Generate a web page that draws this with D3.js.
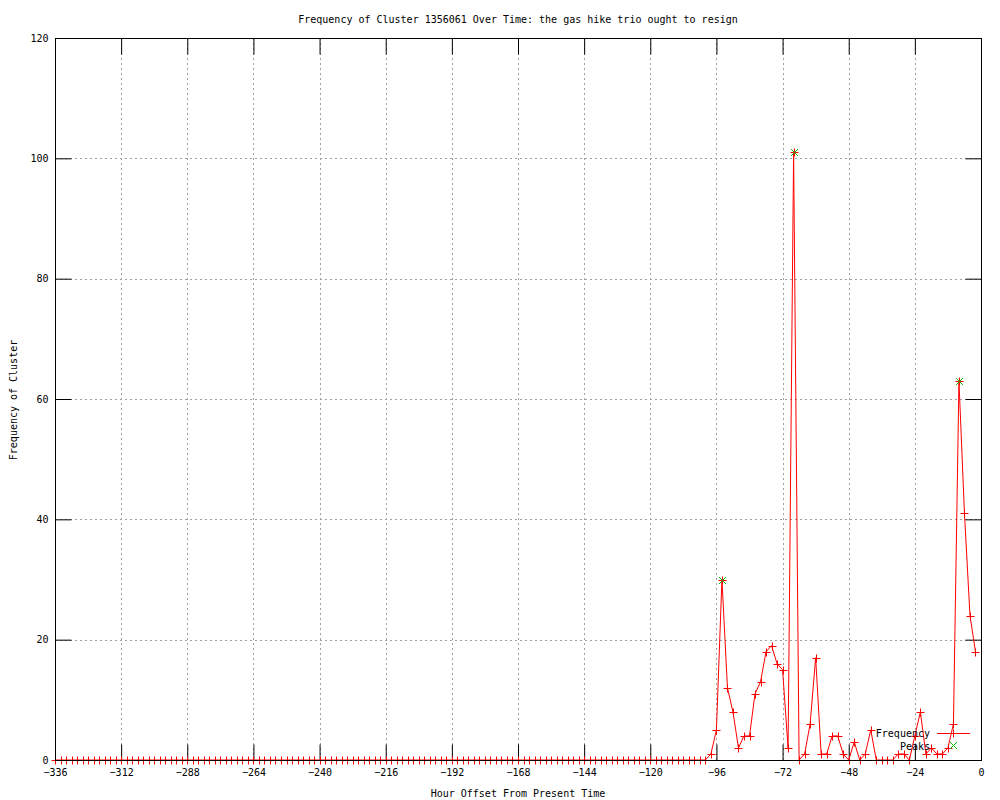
<!DOCTYPE html>
<html>
<head>
<meta charset="utf-8">
<script src="https://cdn.jsdelivr.net/npm/d3@7"></script>
<style>
  body { margin: 0; background: #fff; }
  svg { display: block; }
  text { font-family: "DejaVu Sans Mono", "Liberation Mono", monospace; font-size: 10px; fill: #000; }
</style>
</head>
<body>
<svg id="chart" width="1000" height="800"></svg>
<script>
// ---- data ----
const titleText = "Frequency of Cluster 1356061 Over Time: the gas hike trio ought to resign";
const xLabel = "Hour Offset From Present Time";
const yLabel = "Frequency of Cluster";
const xTicks = [-336, -312, -288, -264, -240, -216, -192, -168, -144, -120, -96, -72, -48, -24, 0];
const yTicks = [0, 20, 40, 60, 80, 100, 120];
const hours = d3.range(-336, 0, 2); // -336 ... -2, every 2 hours
const frequency = [
  0,0,0,0,0,0,0,0,0,0, 0,0,0,0,0,0,0,0,0,0,
  0,0,0,0,0,0,0,0,0,0, 0,0,0,0,0,0,0,0,0,0,
  0,0,0,0,0,0,0,0,0,0, 0,0,0,0,0,0,0,0,0,0,
  0,0,0,0,0,0,0,0,0,0, 0,0,0,0,0,0,0,0,0,0,
  0,0,0,0,0,0,0,0,0,0, 0,0,0,0,0,0,0,0,0,0,
  0,0,0,0,0,0,0,0,0,0, 0,0,0,0,0,0,0,0,0,
  1,5,30,12,8,2,4,4,11,13,
  18,19,16,15,2,101,0,1,6,17,
  1,1,4,4,1,0,3,0,1,5,
  0,0,0,0,1,1,0,4,8,1,
  2,1,1,2,6,63,41,24,18
];
const peakHours = [-94, -68, -8];
const peakValues = [30, 101, 63];

// ---- layout ----
const svg = d3.select("#chart");
const L = 55, R = 981, T = 38, B = 760;
const x = d3.scaleLinear().domain([-336, 0]).range([L, R]);
const y = d3.scaleLinear().domain([0, 120]).range([B, T]);
const red = "#ff0000", green = "#00c000";

// grid
const grid = svg.append("g").attr("stroke", "#a0a0a0").attr("stroke-width", 1).attr("stroke-dasharray", "2,3");
xTicks.slice(1, -1).forEach(t => {
  grid.append("line").attr("x1", Math.round(x(t)) + 0.5).attr("x2", Math.round(x(t)) + 0.5).attr("y1", T).attr("y2", B);
});
yTicks.slice(1, -1).forEach(t => {
  grid.append("line").attr("y1", Math.round(y(t)) + 0.5).attr("y2", Math.round(y(t)) + 0.5).attr("x1", L).attr("x2", R);
});

// axes with inward ticks (mirrored)
const tickLen = 16;
const axB = svg.append("g").attr("transform", `translate(0,${B + 0.5})`)
  .call(d3.axisBottom(x).tickValues(xTicks).tickSizeInner(-tickLen).tickSizeOuter(0).tickPadding(8));
const axT = svg.append("g").attr("transform", `translate(0,${T + 0.5})`)
  .call(d3.axisTop(x).tickValues(xTicks).tickSizeInner(-tickLen).tickSizeOuter(0).tickFormat(""));
const axL = svg.append("g").attr("transform", `translate(${L + 0.5},0)`)
  .call(d3.axisLeft(y).tickValues(yTicks).tickSizeInner(-tickLen).tickSizeOuter(0).tickPadding(7));
const axR = svg.append("g").attr("transform", `translate(${R + 0.5},0)`)
  .call(d3.axisRight(y).tickValues(yTicks).tickSizeInner(-tickLen).tickSizeOuter(0).tickFormat(""));
[axB, axT, axL, axR].forEach(a => {
  a.select(".domain").remove();
  a.selectAll("line").attr("stroke", "#000");
  a.selectAll("text").style("font-family", "DejaVu Sans Mono, monospace").style("font-size", "10px").attr("fill", "#000");
});
axB.selectAll("text").attr("dy", "0.71em");

// data line
const pts = hours.map((h, i) => [h, frequency[i]]);
svg.append("path").datum(pts)
  .attr("fill", "none").attr("stroke", red).attr("stroke-width", 1)
  .attr("d", d3.line().x(d => x(d[0])).y(d => y(d[1])));

// plus markers
const ms = 4;
const plusPath = (cx, cy) => `M${cx - ms},${cy}H${cx + ms}M${cx},${cy - ms}V${cy + ms}`;
svg.append("g").selectAll("path").data(pts).join("path")
  .attr("d", d => plusPath(Math.round(x(d[0])) + 0.5, Math.round(y(d[1])) + 0.5))
  .attr("stroke", red).attr("stroke-width", 1).attr("fill", "none");

// peaks (x markers)
const xs = 3.5;
const crossPath = (cx, cy) => `M${cx - xs},${cy - xs}L${cx + xs},${cy + xs}M${cx - xs},${cy + xs}L${cx + xs},${cy - xs}`;
svg.append("g").selectAll("path").data(peakHours.map((h, i) => [h, peakValues[i]])).join("path")
  .attr("d", d => crossPath(Math.round(x(d[0])) + 0.5, Math.round(y(d[1])) + 0.5))
  .attr("stroke", green).attr("stroke-width", 1).attr("fill", "none");

// border
svg.append("rect").attr("x", L + 0.5).attr("y", T + 0.5).attr("width", R - L).attr("height", B - T)
  .attr("fill", "none").attr("stroke", "#000").attr("stroke-width", 1);

// legend
const lg = svg.append("g");
lg.append("text").attr("x", 930).attr("y", 733).attr("dy", "0.35em").attr("text-anchor", "end").text("Frequency");
lg.append("line").attr("x1", 937).attr("x2", 970).attr("y1", 733.5).attr("y2", 733.5).attr("stroke", red);
lg.append("path").attr("d", plusPath(953.5, 733.5)).attr("stroke", red);
lg.append("text").attr("x", 930).attr("y", 746).attr("dy", "0.35em").attr("text-anchor", "end").text("Peaks");
lg.append("path").attr("d", crossPath(953.5, 745.5)).attr("stroke", green);

// titles
svg.append("text").attr("x", 518).attr("y", 19).attr("dy", "0.35em").attr("text-anchor", "middle").text(titleText);
svg.append("text").attr("x", 518).attr("y", 793).attr("dy", "0.35em").attr("text-anchor", "middle").text(xLabel);
svg.append("text").attr("transform", "translate(13,400) rotate(-90)").attr("dy", "0.35em").attr("text-anchor", "middle").text(yLabel);
</script>
</body>
</html>
